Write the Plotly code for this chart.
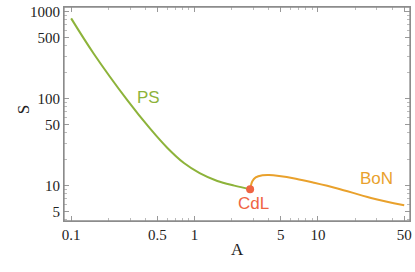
import plotly.graph_objects as go

# Data
ps_A = [0.1, 0.152, 0.285, 0.435, 0.6, 0.82, 1.1, 1.53, 2.1, 2.82]
ps_S = [830, 328, 95.3, 45.0, 27.0, 18.0, 13.8, 11.2, 9.9, 9.0]

bon_A = [2.82, 2.94, 3.13, 3.55, 4.01, 4.84, 6.62, 9.31, 14.4, 26.9, 50]
bon_S = [9.0, 11.1, 12.3, 13.0, 13.1, 12.8, 11.9, 10.7, 9.2, 7.15, 5.88]

cdl_A = [2.82]
cdl_S = [9.0]

x_ticks = [0.1, 0.5, 1, 5, 10, 50]
x_ticklabels = ["0.1", "0.5", "1", "5", "10", "50"]
y_ticks = [5, 10, 50, 100, 500, 1000]
y_ticklabels = ["5", "10", "50", "100", "500", "1000"]

x_minor = [0.2, 0.3, 0.4, 0.6, 0.7, 0.8, 0.9, 2, 3, 4, 6, 7, 8, 9, 20, 30, 40]
y_minor = [4, 6, 7, 8, 9, 20, 30, 40, 60, 70, 80, 90, 200, 300, 400, 600, 700, 800, 900]

GREEN = "#8db33a"
ORANGE = "#e9a12c"
RED = "#ef6443"
FRAME = "#8c8c8c"

fig = go.Figure()
fig.add_trace(go.Scatter(x=ps_A, y=ps_S, mode="lines",
                         line=dict(color=GREEN, width=2, shape="spline", smoothing=1.0),
                         hoverinfo="skip"))
fig.add_trace(go.Scatter(x=bon_A, y=bon_S, mode="lines",
                         line=dict(color=ORANGE, width=2, shape="spline", smoothing=1.0),
                         hoverinfo="skip"))
fig.add_trace(go.Scatter(x=cdl_A, y=cdl_S, mode="markers",
                         marker=dict(color=RED, size=8), hoverinfo="skip"))

label_font = "Liberation Sans, Arial, sans-serif"
# annotation positions on log axes are given in log10 units
fig.add_annotation(x=-0.377, y=2.007, xref="x", yref="y", text="PS", showarrow=False,
                   font=dict(family=label_font, size=17, color=GREEN))
fig.add_annotation(x=0.476, y=0.789, xref="x", yref="y", text="CdL", showarrow=False,
                   font=dict(family=label_font, size=17, color=RED))
fig.add_annotation(x=1.476, y=1.077, xref="x", yref="y", text="BoN", showarrow=False,
                   font=dict(family=label_font, size=17, color=ORANGE))

serif = "Liberation Serif, Times New Roman, serif"
fig.add_annotation(x=0.5, y=0, xref="paper", yref="paper", yshift=-40, text="A",
                   showarrow=False, font=dict(family=serif, size=17, color="#222"))
fig.add_annotation(x=0, y=0.52, xref="paper", yref="paper", xshift=-52, text="S",
                   textangle=-90, showarrow=False, font=dict(family=serif, size=17, color="#222"))

# frame
fig.add_shape(type="rect", xref="paper", yref="paper", x0=0, y0=0, x1=1, y1=1,
              line=dict(color=FRAME, width=1.3), layer="above")

axis_common = dict(
    type="log", showgrid=False, zeroline=False, showline=True, linecolor=FRAME,
    linewidth=1, mirror="allticks", ticks="inside", ticklen=5, tickwidth=1,
    tickcolor="#999999", tickfont=dict(family=serif, size=15, color="#222"),
)
fig.update_xaxes(**axis_common, range=[-1.058, 1.746], tickmode="array",
                 tickvals=x_ticks, ticktext=x_ticklabels,
                 minor=dict(tickmode="array", tickvals=x_minor, ticks="inside",
                            ticklen=3, tickcolor="#bbbbbb", showgrid=False))
fig.update_yaxes(**axis_common, range=[0.589, 3.05], tickmode="array",
                 tickvals=y_ticks, ticktext=y_ticklabels,
                 minor=dict(tickmode="array", tickvals=y_minor, ticks="inside",
                            ticklen=3, tickcolor="#bbbbbb", showgrid=False))

fig.update_layout(template="none", width=415, height=272,
                  margin=dict(l=64, r=5, t=7, b=51),
                  paper_bgcolor="white", plot_bgcolor="white", showlegend=False)

fig.write_html("out.html", config={"displayModeBar": False},
               post_script="document.body.style.margin='0';")
